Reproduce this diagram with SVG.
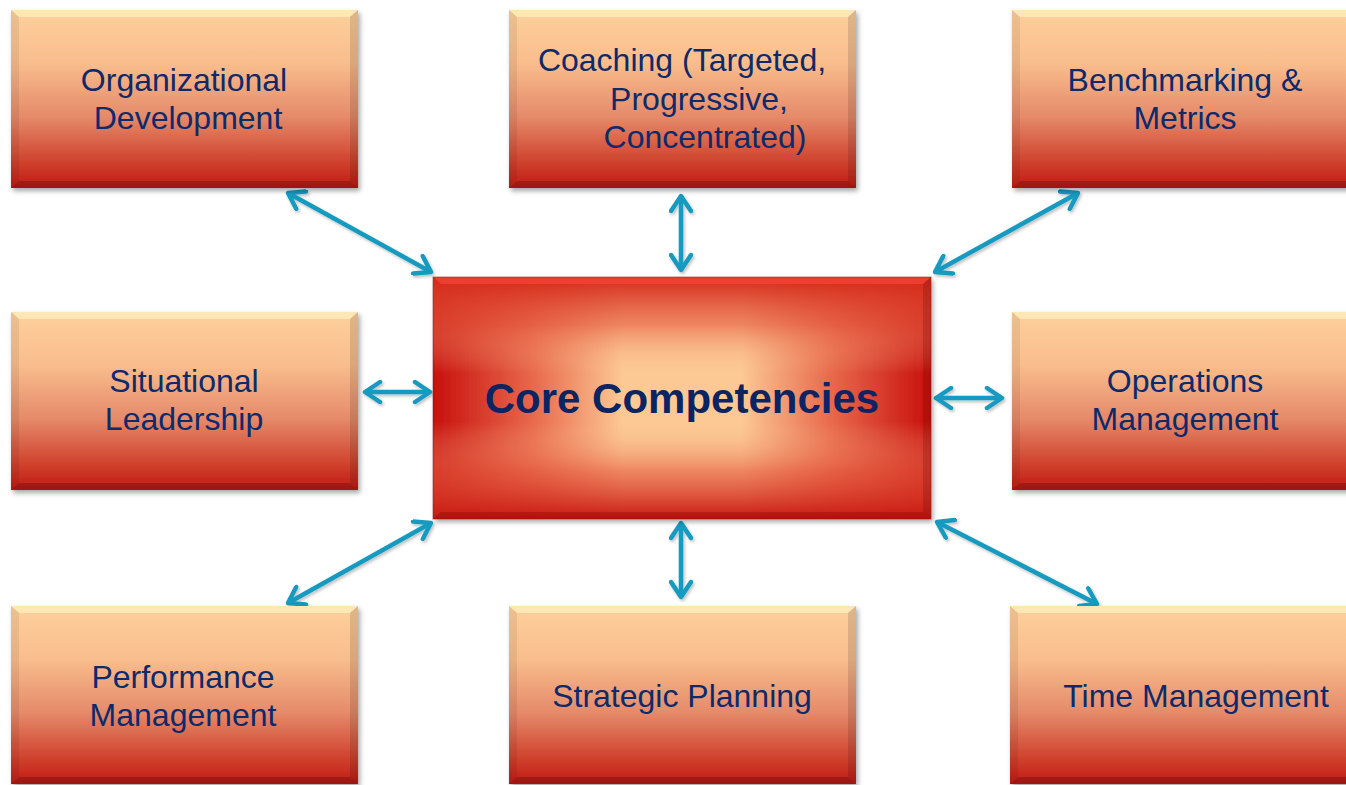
<svg xmlns="http://www.w3.org/2000/svg" xmlns:xlink="http://www.w3.org/1999/xlink" width="1346" height="785" viewBox="0 0 1346 785">
<style>
.t{font-family:"Liberation Sans",Arial,sans-serif;font-size:32px;fill:#0d2a6b;text-anchor:middle}
.tc{font-family:"Liberation Sans",Arial,sans-serif;font-size:42px;font-weight:bold;fill:#0b2463;text-anchor:middle}
.cn{stroke:#169ac0;stroke-width:4.5;fill:none;marker-start:url(#ah);marker-end:url(#ah)}
</style>
<defs>
<linearGradient id="gb" x1="0" y1="0" x2="0" y2="1">
<stop offset="0" stop-color="#fdd09c"/>
<stop offset="0.3" stop-color="#f9bd8c"/>
<stop offset="0.6" stop-color="#e58a6a"/>
<stop offset="0.85" stop-color="#d0432e"/>
<stop offset="1" stop-color="#c11a14"/>
</linearGradient>
<linearGradient id="gh" x1="0" y1="0" x2="1" y2="0">
<stop offset="0" stop-color="#c8100c"/>
<stop offset="0.2" stop-color="#e8684c"/>
<stop offset="0.38" stop-color="#fcc894"/>
<stop offset="0.62" stop-color="#fcc894"/>
<stop offset="0.8" stop-color="#e8684c"/>
<stop offset="1" stop-color="#c8100c"/>
</linearGradient>
<linearGradient id="gv" x1="0" y1="0" x2="0" y2="1">
<stop offset="0" stop-color="#d42818" stop-opacity="1"/>
<stop offset="0.2" stop-color="#e45a40" stop-opacity="0.6"/>
<stop offset="0.4" stop-color="#fcc894" stop-opacity="0"/>
<stop offset="0.6" stop-color="#fcc894" stop-opacity="0"/>
<stop offset="0.8" stop-color="#e45a40" stop-opacity="0.6"/>
<stop offset="1" stop-color="#c81810" stop-opacity="1"/>
</linearGradient>
<filter id="sh" x="-5%" y="-5%" width="115%" height="120%">
<feDropShadow dx="2" dy="3" stdDeviation="2.5" flood-color="#000" flood-opacity="0.35"/>
</filter>
<filter id="sha" x="-20%" y="-20%" width="140%" height="140%">
<feDropShadow dx="1.5" dy="2" stdDeviation="1.5" flood-color="#000" flood-opacity="0.25"/>
</filter>
<marker id="ah" viewBox="-20 -12 24 24" markerWidth="24" markerHeight="24" refX="0" refY="0" orient="auto-start-reverse" markerUnits="userSpaceOnUse">
<path d="M-15,-10 L0,0 L-15,10" fill="none" stroke="#169ac0" stroke-width="4.5" stroke-linecap="round" stroke-linejoin="round"/>
</marker>
<g id="nb">
<rect x="0" y="0" width="347" height="178" fill="url(#gb)" filter="url(#sh)"/>
<polygon points="0,0 347,0 339,7 8,7" fill="#fff6c8" opacity="0.6"/>
<polygon points="0,0 8,7 8,171 0,178" fill="#000" opacity="0.07"/>
<polygon points="347,0 339,7 339,171 347,178" fill="#000" opacity="0.12"/>
<polygon points="0,178 8,171 339,171 347,178" fill="#000" opacity="0.18"/>
</g>
</defs>
<rect width="1346" height="785" fill="#fff"/>
<g id="connectors" filter="url(#sha)">
<line class="cn" x1="288" y1="193" x2="431" y2="272"/>
<line class="cn" x1="681" y1="196" x2="681" y2="270"/>
<line class="cn" x1="1078" y1="193" x2="935" y2="272"/>
<line class="cn" x1="365" y1="392" x2="430" y2="392"/>
<line class="cn" x1="936" y1="398" x2="1002" y2="398"/>
<line class="cn" x1="288" y1="603" x2="431" y2="523"/>
<line class="cn" x1="681" y1="523" x2="681" y2="597"/>
<line class="cn" x1="937" y1="522" x2="1097" y2="604"/>
</g>
<g id="core">
<g filter="url(#sh)">
<rect x="433" y="277" width="498" height="242" fill="url(#gh)"/>
</g>
<rect x="433" y="277" width="498" height="242" fill="url(#gv)"/>
<polygon points="433,277 931,277 923,284 441,284" fill="#ff4a40" opacity="0.6"/>
<polygon points="433,519 441,512 923,512 931,519" fill="#600" opacity="0.25"/>
<polygon points="931,277 923,284 923,512 931,519" fill="#500" opacity="0.2"/>
<rect x="433" y="277" width="498" height="242" fill="none" stroke="#a01010" stroke-width="1" opacity="0.5"/>
<text class="tc" x="682" y="413">Core Competencies</text>
</g>
<g id="n-org">
<use href="#nb" x="11" y="10"/>
<text class="t" x="184" y="91">Organizational</text>
<text class="t" x="188" y="129">Development</text>
</g>
<g id="n-coach">
<use href="#nb" x="509" y="10"/>
<text class="t" x="682" y="71">Coaching (Targeted,</text>
<text class="t" x="699" y="110">Progressive,</text>
<text class="t" x="705" y="148">Concentrated)</text>
</g>
<g id="n-bench">
<use href="#nb" x="1012" y="10"/>
<text class="t" x="1185" y="91">Benchmarking &amp;</text>
<text class="t" x="1185" y="129">Metrics</text>
</g>
<g id="n-sit">
<use href="#nb" x="11" y="312"/>
<text class="t" x="184" y="392">Situational</text>
<text class="t" x="184" y="430">Leadership</text>
</g>
<g id="n-ops">
<use href="#nb" x="1012" y="312"/>
<text class="t" x="1185" y="392">Operations</text>
<text class="t" x="1185" y="430">Management</text>
</g>
<g id="n-perf">
<use href="#nb" x="11" y="606"/>
<text class="t" x="183" y="688">Performance</text>
<text class="t" x="183" y="726">Management</text>
</g>
<g id="n-strat">
<use href="#nb" x="509" y="606"/>
<text class="t" x="682" y="707">Strategic Planning</text>
</g>
<g id="n-time">
<use href="#nb" x="1010" y="606"/>
<text class="t" x="1196" y="707">Time Management</text>
</g>
</svg>
